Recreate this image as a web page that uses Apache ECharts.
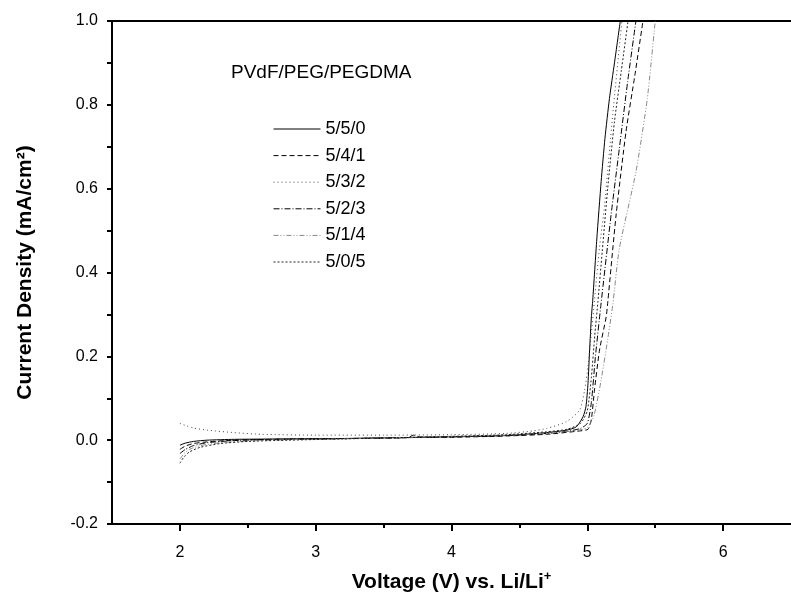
<!DOCTYPE html>
<html>
<head>
<meta charset="utf-8">
<script src="https://cdn.jsdelivr.net/npm/echarts@6/dist/echarts.min.js"></script>
<style>html,body{margin:0;padding:0;background:#fff}#c{width:791px;height:606px}</style>
</head>
<body>
<div id="c"></div>
<script>
// ---- data ----
const seriesNames = ['5/5/0', '5/4/1', '5/3/2', '5/2/3', '5/1/4', '5/0/5'];

const v550 = [2.00,2.04,2.10,2.20,2.40,2.80,3.20,3.60,4.00,4.40,4.70,4.85,4.92,4.969,4.99,5.005,5.017,5.03,5.04,5.07,5.102,5.13,5.163,5.20,5.243];
const i550 = [-0.012,-0.007,-0.003,0.000,0.002,0.003,0.004,0.006,0.008,0.011,0.018,0.024,0.032,0.056,0.080,0.135,0.215,0.294,0.334,0.480,0.617,0.720,0.815,0.900,1.000];

const v541 = [2.00,2.04,2.10,2.20,2.40,2.70,3.00,3.50,3.68,3.72,3.78,4.00,4.40,4.70,4.944,5.005,5.03,5.053,5.09,5.139,5.151,5.212,5.285,5.35,5.41];
const i541 = [-0.022,-0.014,-0.008,-0.004,0.000,0.002,0.003,0.005,0.006,0.012,0.007,0.007,0.010,0.014,0.022,0.026,0.050,0.120,0.215,0.294,0.330,0.537,0.736,0.870,1.000];

const v532 = [2.00,2.05,2.10,2.20,2.40,2.60,3.00,3.50,4.00,4.40,4.60,4.70,4.847,4.944,4.98,5.005,5.03,5.053,5.09,5.127,5.187,5.255];
const i532 = [0.040,0.034,0.029,0.024,0.018,0.014,0.012,0.012,0.013,0.016,0.022,0.028,0.044,0.072,0.119,0.175,0.255,0.334,0.460,0.560,0.776,1.000];

const v523 = [2.00,2.04,2.10,2.20,2.40,2.70,3.00,3.50,4.00,4.40,4.70,4.85,4.95,5.00,5.03,5.06,5.10,5.175,5.236,5.297,5.358];
const i523 = [-0.032,-0.022,-0.013,-0.006,-0.001,0.002,0.003,0.005,0.008,0.011,0.016,0.021,0.028,0.040,0.090,0.200,0.322,0.537,0.696,0.855,1.000];

const v514 = [2.00,2.03,2.07,2.15,2.30,2.50,2.80,3.20,3.60,4.00,4.40,4.70,4.90,5.00,5.05,5.10,5.15,5.187,5.236,5.358,5.442,5.50];
const i514 = [-0.045,-0.032,-0.022,-0.013,-0.006,-0.002,0.001,0.003,0.006,0.009,0.012,0.017,0.022,0.030,0.060,0.140,0.240,0.322,0.457,0.640,0.815,1.000];

const v505 = [2.00,2.03,2.07,2.15,2.30,2.50,2.80,3.20,3.60,4.00,4.40,4.70,4.85,4.95,5.00,5.03,5.055,5.078,5.11,5.15,5.20,5.25,5.30];
const i505 = [-0.055,-0.040,-0.028,-0.017,-0.008,-0.003,0.000,0.003,0.006,0.009,0.013,0.020,0.026,0.040,0.070,0.150,0.250,0.330,0.450,0.600,0.760,0.880,1.000];

const xLabels = [2, 3, 4, 5, 6];
const xMinor = [2.5, 3.5, 4.5, 5.5];
const legendTitle = 'PVdF/PEG/PEGDMA';

// ---- styles (not data) ----
const styles = [
  {color:'#000', type:'solid'},
  {color:'#000', type:[5,3]},
  {color:'#444', type:[1,3]},
  {color:'#000', type:[6,2,1,2]},
  {color:'#888', type:[5,2,1,2,1,2]},
  {color:'#222', type:[2,2]}
];
const vs = [v550, v541, v532, v523, v514, v505];
const is = [i550, i541, i532, i523, i514, i505];

const FONT = '"Liberation Sans", Arial, sans-serif';
const chart = echarts.init(document.getElementById('c'), null, {renderer:'canvas'});

const series = seriesNames.map((n, k) => ({
  name: n,
  type: 'line',
  xAxisIndex: 0,
  yAxisIndex: 0,
  showSymbol: false,
  symbol: 'none',
  smooth: 0.2,
  clip: true,
  animation: false,
  lineStyle: {width: 1, color: styles[k].color, type: styles[k].type},
  itemStyle: {color: styles[k].color},
  data: vs[k].map((x, j) => [x, is[k][j]])
}));

chart.setOption({
  animation: false,
  backgroundColor: '#fff',
  textStyle: {fontFamily: FONT},
  title: {
    text: legendTitle,
    left: 231, top: 63, padding: 0,
    textStyle: {fontFamily: FONT, fontSize: 19, fontWeight: 'normal', color: '#000'}
  },
  legend: {
    show: true,
    orient: 'vertical',
    left: 273, top: 120, padding: 0,
    itemWidth: 47, itemHeight: 14, itemGap: 8.6,
    itemStyle: {opacity: 0},
    lineStyle: {width: 1},
    textStyle: {fontFamily: FONT, fontSize: 18, color: '#000'},
    data: seriesNames
  },
  grid: {left: 112, top: 21, width: 684, height: 503, containLabel: false},
  xAxis: [
    {
      type: 'value', min: 1.5, max: 6.5, position: 'bottom',
      name: 'Voltage (V) vs. Li/Li{sup|+}',
      nameLocation: 'middle', nameGap: 46,
      nameTextStyle: {
        fontFamily: FONT, fontSize: 21, fontWeight: 'bold', color: '#000',
        rich: {sup: {fontFamily: FONT, fontSize: 13, fontWeight: 'bold', color: '#000', padding: [0,0,12,0]}}
      },
      axisLine: {show: true, onZero: false, lineStyle: {color: '#000', width: 2}},
      axisTick: {show: true, inside: false, length: 7, lineStyle: {color: '#000', width: 2}, customValues: xLabels},
      axisLabel: {show: true, margin: 21, fontSize: 16, color: '#000', fontFamily: FONT, customValues: xLabels},
      splitLine: {show: false}
    },
    {
      type: 'value', min: 1.5, max: 6.5, position: 'bottom', gridIndex: 0,
      axisLine: {show: false, onZero: false},
      axisTick: {show: true, length: 4, lineStyle: {color: '#000', width: 2}, customValues: xMinor},
      axisLabel: {show: false},
      splitLine: {show: false}
    },
    {
      type: 'value', min: 1.5, max: 6.5, position: 'top', gridIndex: 0,
      axisLine: {show: true, onZero: false, lineStyle: {color: '#000', width: 2}},
      axisTick: {show: false}, axisLabel: {show: false}, splitLine: {show: false}
    }
  ],
  yAxis: [{
    type: 'value', min: -0.2, max: 1.0, interval: 0.1,
    name: 'Current Density (mA/cm²)',
    nameLocation: 'middle', nameGap: 76, nameRotate: 90,
    nameTextStyle: {fontFamily: FONT, fontSize: 21, fontWeight: 'bold', color: '#000'},
    axisLine: {show: true, onZero: false, lineStyle: {color: '#000', width: 2}},
    axisTick: {show: true, length: 5, lineStyle: {color: '#000', width: 2}},
    axisLabel: {
      margin: 14, fontSize: 16, color: '#000', fontFamily: FONT,
      formatter: v => (Math.round(v * 10) % 2 === 0 ? v.toFixed(1) : '')
    },
    splitLine: {show: false}
  }],
  series: series
});
</script>
</body>
</html>
